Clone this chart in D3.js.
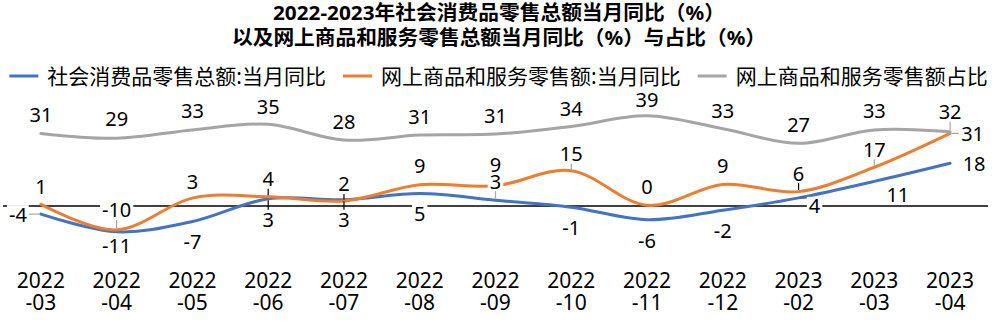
<!DOCTYPE html>
<html><head><meta charset="utf-8">
<script src="https://cdn.jsdelivr.net/npm/d3@7"></script>
<style>
html,body{margin:0;padding:0;background:#fff;}
svg{display:block;font-family:"Noto Sans","Noto Sans CJK SC",sans-serif;}
</style></head>
<body><svg id="c" width="997" height="334"></svg>
<script>
// ---- data ----
const categories = ["2022-03","2022-04","2022-05","2022-06","2022-07","2022-08","2022-09","2022-10","2022-11","2022-12","2023-02","2023-03","2023-04"];
const retailYoY  = [-3.5,-11.1,-6.7,3.1,2.7,5.4,2.5,-0.5,-5.9,-1.8,3.5,10.6,18.4];
const onlineYoY  = [0.7,-10.3,3.4,4.0,2.2,9.2,8.7,15.2,0.3,9.3,6.2,16.7,31.3];
const onlineShare = [31.3,29.2,32.8,35.2,28.4,30.6,31.0,34.3,38.9,33.3,27.0,32.8,32.0];
const seriesNames = ["社会消费品零售总额:当月同比","网上商品和服务零售额:当月同比","网上商品和服务零售额占比"];
const titleLines = ["2022-2023年社会消费品零售总额当月同比（%）","以及网上商品和服务零售总额当月同比（%）与占比（%）"];

// ---- label layout (offsets in px from point) ----
const retailLabelPos = [[-23,0],[0,14],[0,20],[0,21],[0,20],[0,20.5],[0,-19],[0,20],[0,21],[0,20.5],[16,8],[23.5,12.6],[24,0]];
const onlineLabelPos = [[0,-18],[0,-20],[0,-16.5],[0,-18],[0,-17],[0,-19.5],[0,-21],[0,-17],[0,-18.6],[0,-19],[0,-18.6],[0,-18],[22.5,0]];
const shareLabelPos  = [[0,-18.4],[0,-20],[0,-19.9],[0,-17.6],[0,-18.4],[0,-19],[0,-18.1],[0,-18.1],[0,-15.8],[0,-18],[0,-18.4],[0,-19.2],[0,-20.1]];
const leaders = [ // [seriesIndex, pointIndex, color]
  [0,0,"#a6a6a6"],[1,1,"#a6a6a6"],[1,3,"#000"],[0,3,"#000"],[1,4,"#000"],[0,4,"#000"],
  [0,6,"#a6a6a6"],[1,7,"#a6a6a6"],[1,10,"#000"],[0,10,"#595959"],[1,11,"#a6a6a6"],[1,12,"#a6a6a6"],[2,12,"#a6a6a6"]
];

const colors = ["#4472C4","#ED7D31","#A5A5A5"];
const series = [retailYoY, onlineYoY, onlineShare];
const labelPos = [retailLabelPos, onlineLabelPos, shareLabelPos];

const W = 997, H = 334;
const svg = d3.select("#c");

const x = d3.scalePoint().domain(categories).range([3, 988]).padding(0.5);
const y = d3.scaleLinear().domain([-20, 40]).range([206 + 20*2.32, 206 - 40*2.32]);

// title
const title = svg.append("g");
title.selectAll("text").data(titleLines).join("text")
  .attr("x", 499).attr("y", (d,i) => i === 0 ? 12 : 37.5)
  .attr("text-anchor","middle").attr("dominant-baseline","central")
  .attr("font-size", 20).attr("font-weight","bold").attr("fill","#000")
  .attr("textLength", (d,i) => i === 0 ? 452 : 534).attr("lengthAdjust","spacingAndGlyphs")
  .text(d => d);

// legend
const lg = svg.append("g");
const items = seriesNames.map((n,i) => {
  const g = lg.append("g");
  g.append("line").attr("x1",0).attr("x2",29).attr("y1",0).attr("y2",0)
    .attr("stroke",colors[i]).attr("stroke-width",3);
  const t = g.append("text").attr("x",38).attr("y",0).attr("dominant-baseline","central")
    .attr("font-size",21).attr("fill","#000").text(n);
  const w = 38 + t.node().getComputedTextLength();
  return {g, w};
});
const gap = 17;
const total = d3.sum(items, d => d.w) + gap*(items.length-1);
let cx = 498.5 - total/2;
items.forEach(it => { it.g.attr("transform",`translate(${cx},76)`); cx += it.w + gap; });

// zero axis
svg.append("line").attr("x1",3).attr("x2",988).attr("y1",y(0)).attr("y2",y(0))
  .attr("stroke","#000").attr("stroke-width",1.4);

// x axis labels
const xa = svg.append("g");
categories.forEach(c => {
  const [yr, mo] = c.split("-");
  const t = xa.append("text").attr("text-anchor","middle").attr("font-size",21).attr("fill","#000");
  t.append("tspan").attr("x", x(c)).attr("y", 288).text(yr);
  t.append("tspan").attr("x", x(c)).attr("y", 310).text("-" + mo);
});

// lines
const line = d3.line().x((d,i) => x(categories[i])).y(d => y(d)).curve(d3.curveCardinal.tension(0));
series.forEach((s,i) => {
  svg.append("path").datum(s).attr("d", line).attr("fill","none")
    .attr("stroke", colors[i]).attr("stroke-width", 3).attr("stroke-linecap","round");
});

// labels
function fmt(v){ const r = Math.sign(v)*Math.round(Math.abs(v)); return String(r === 0 ? 0 : r); }
const labelLayer = svg.append("g");
const leaderLayer = svg.insert("g", () => labelLayer.node());
const boxes = {};
[2,1,0].forEach(si => {
  series[si].forEach((v,i) => {
    const px = x(categories[i]), py = y(v);
    const [dx,dy] = labelPos[si][i];
    const lx = px + dx, ly = py + dy;
    const g = labelLayer.append("g");
    const r = g.append("rect").attr("fill","#fff");
    const t = g.append("text").attr("x",lx).attr("y",ly).attr("text-anchor","middle")
      .attr("dominant-baseline","central").attr("font-size",20).attr("fill","#000").text(fmt(v));
    const tw = t.node().getComputedTextLength();
    const bw = tw + 4, bh = 18;
    r.attr("x", lx - bw/2).attr("y", ly - bh/2).attr("width", bw).attr("height", bh);
    boxes[si+"_"+i] = {x0: lx - bw/2, x1: lx + bw/2, y0: ly - bh/2 - 1, y1: ly + bh/2 + 1, px, py};
  });
});
leaders.forEach(([si,i,col]) => {
  const b = boxes[si+"_"+i];
  const nx = Math.max(b.x0, Math.min(b.px, b.x1));
  const ny = Math.max(b.y0, Math.min(b.py, b.y1));
  const ddx = b.px - nx, ddy = b.py - ny;
  const len = Math.hypot(ddx, ddy);
  if (len < 2) return;
  const ex = b.px - ddx/len*1.5, ey = b.py - ddy/len*1.5;
  leaderLayer.append("line").attr("x1",nx).attr("y1",ny).attr("x2",ex).attr("y2",ey)
    .attr("stroke",col).attr("stroke-width",1.2);
});
</script></body></html>
